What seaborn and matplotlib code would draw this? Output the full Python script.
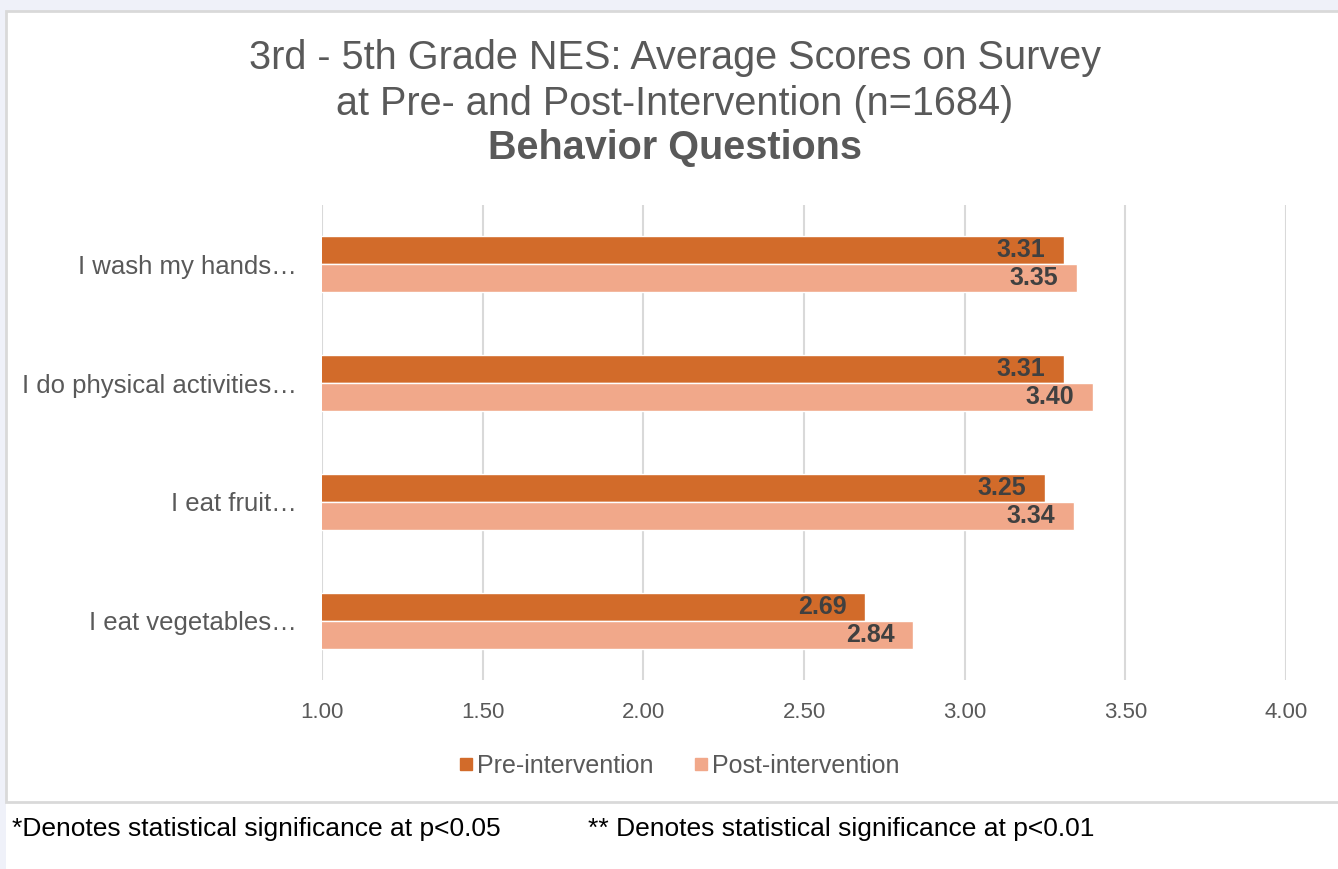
import matplotlib
matplotlib.use('Agg')
import matplotlib.pyplot as plt
from matplotlib.patches import Rectangle
from matplotlib.lines import Line2D
import seaborn as sns
import pandas as pd

# Данные
questions = ['I wash my hands…', 'I do physical activities…', 'I eat fruit…', 'I eat vegetables…']
pre_scores = [3.31, 3.31, 3.25, 2.69]
post_scores = [3.35, 3.40, 3.34, 2.84]
phases = ['Pre-intervention', 'Post-intervention']
colors = ['#D26B2A', '#F1A88A']
x_ticks = [1.00, 1.50, 2.00, 2.50, 3.00, 3.50, 4.00]

df = pd.DataFrame({
    'question': questions * 2,
    'score': pre_scores + post_scores,
    'phase': [phases[0]] * len(questions) + [phases[1]] * len(questions),
})

sns.set_theme(style='white')
plt.rcParams['font.family'] = ['Liberation Sans', 'DejaVu Sans']

W, H = 1338, 869
fig = plt.figure(figsize=(W / 100, H / 100), dpi=100)
fig.patch.set_facecolor('white')

# фон вокруг рамки диаграммы
fig.add_artist(Rectangle((0, 1 - 11 / H), 1, 11 / H, transform=fig.transFigure,
                         facecolor='#EFF1F9', edgecolor='none', zorder=0))
fig.add_artist(Rectangle((0, 0), 6 / W, 1, transform=fig.transFigure,
                         facecolor='#EFF1F9', edgecolor='none', zorder=0))
fig.add_artist(Rectangle((6 / W, 1 - 802 / H), 1.0, (802 - 11) / H, transform=fig.transFigure,
                         facecolor='white', edgecolor='#D9D9D9', linewidth=2, zorder=0))

ax = fig.add_axes([322 / W, 1 - 680 / H, (1286 - 322) / W, (680 - 205) / H])
ax.set_facecolor('none')

sns.barplot(data=df, y='question', x='score', hue='phase', palette=colors,
            saturation=1, orient='h', width=0.47, ax=ax, legend=False, zorder=2)

ax.set_xlim(1, 4)
ax.set_xticks(x_ticks)
ax.set_xticklabels([f'{t:.2f}' for t in x_ticks], color='#595959', fontsize=16)
ax.tick_params(axis='x', length=0, pad=16)
ax.tick_params(axis='y', length=0, pad=18, labelsize=18.5, labelcolor='#595959')
ax.set_xlabel('')
ax.set_ylabel('')
ax.grid(axis='x', color='#D9D9D9', linewidth=1.5, zorder=0)
ax.set_axisbelow(True)
for s in ax.spines.values():
    s.set_visible(False)

# подписи значений внутри концов столбцов
for cont in ax.containers:
    labels = ax.bar_label(cont, fmt='%.2f', padding=-13.5, fontsize=18,
                          fontweight='bold', color='#404040')
    for t in labels:
        t.set_ha('right')

# заголовок
fig.text(0.5045, 1 - 58 / H, '3rd - 5th Grade NES: Average Scores on Survey',
         ha='center', va='center', fontsize=28.5, color='#595959')
fig.text(0.5045, 1 - 104 / H, 'at Pre- and Post-Intervention (n=1684)',
         ha='center', va='center', fontsize=28.5, color='#595959')
fig.text(0.5045, 1 - 148 / H, 'Behavior Questions',
         ha='center', va='center', fontsize=28.5, fontweight='bold', color='#595959')

# легенда
handles = [Line2D([], [], marker='s', linestyle='none', markersize=9,
                  markerfacecolor=c, markeredgecolor=c) for c in colors]
fig.legend(handles, phases, loc='center', bbox_to_anchor=(0.5065, 1 - 766 / H),
           ncol=2, frameon=False, fontsize=18, labelcolor='#595959',
           handletextpad=0.05, columnspacing=1.5, handlelength=0.8)

# сноски
fig.text(12 / W, 1 - 829 / H, '*Denotes statistical significance at p<0.05',
         ha='left', va='center', fontsize=19, color='black')
fig.text(588 / W, 1 - 829 / H, '** Denotes statistical significance at p<0.01',
         ha='left', va='center', fontsize=19, color='black')

fig.savefig('out.png', dpi=100)
plt.close(fig)
